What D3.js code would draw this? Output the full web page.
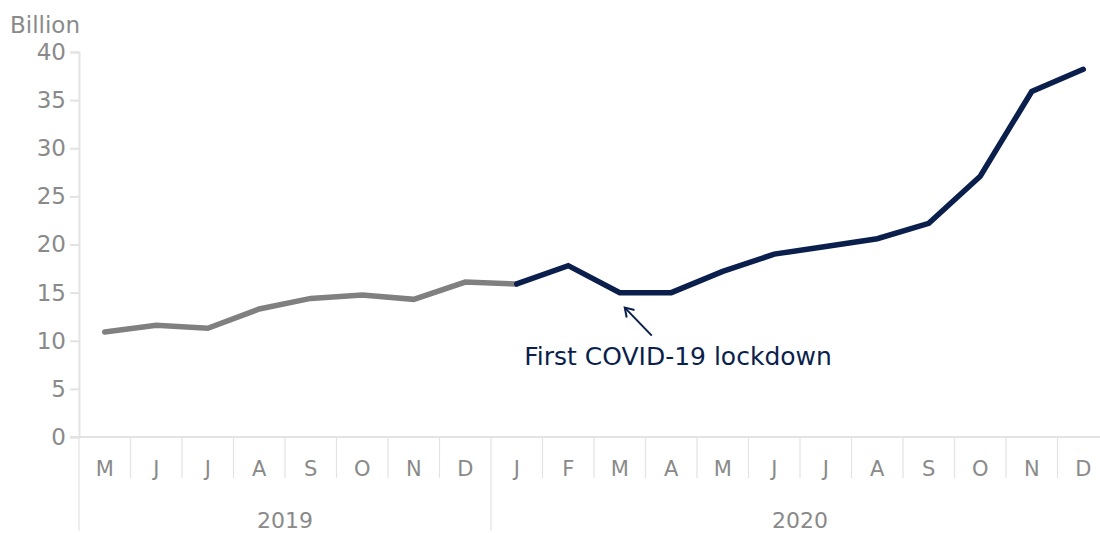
<!DOCTYPE html>
<html>
<head>
<meta charset="utf-8">
<script src="https://cdn.jsdelivr.net/npm/d3@7"></script>
<style>
  html, body { margin: 0; padding: 0; background: #fff; }
  svg { display: block; font-family: "DejaVu Sans", "Noto Sans", sans-serif; }
</style>
</head>
<body>
<svg id="chart" width="1100" height="533"></svg>
<script>
// Monthly labels, May 2019 – Dec 2020
const monthLabels = ["M","J","J","A","S","O","N","D","J","F","M","A","M","J","J","A","S","O","N","D"];
const monthYears  = [2019,2019,2019,2019,2019,2019,2019,2019,2020,2020,2020,2020,2020,2020,2020,2020,2020,2020,2020,2020];
// Values in billions
const values = [10.9, 11.6, 11.3, 13.3, 14.4, 14.75, 14.3, 16.1, 15.9, 17.8, 15.0, 15.0, 17.2, 19.0, 19.8, 20.6, 22.2, 27.1, 35.9, 38.2];
const years = [2019, 2020];
const yTicks = [0, 5, 10, 15, 20, 25, 30, 35, 40];
const unitLabel = "Billion";
const annotationText = "First COVID-19 lockdown";
const annotationIndex = 10; // March 2020

const svg = d3.select("#chart");
const axisColor = "#e3e3e3";
const textGray = "#8a8a8a";
const navy = "#0b1f4d";
const gray = "#808080";

const keys = monthLabels.map((m, i) => monthYears[i] + "-" + i);
const x = d3.scaleBand().domain(keys).range([79, 1109]).padding(0);
const y = d3.scaleLinear().domain([0, 40]).range([437, 52]);
const cx = i => x(keys[i]) + x.bandwidth() / 2;

// Y axis
const yAxis = svg.append("g")
  .attr("transform", "translate(79,0)")
  .call(d3.axisLeft(y).tickValues(yTicks).tickSize(9).tickPadding(4));
yAxis.select(".domain").attr("stroke", axisColor).attr("stroke-width", 2);
yAxis.selectAll(".tick line").attr("stroke", axisColor).attr("stroke-width", 2);
yAxis.selectAll(".tick text")
  .attr("fill", textGray)
  .style("font-size", "23px")
  .style("font-family", "'DejaVu Sans', sans-serif");

svg.append("text")
  .attr("x", 10).attr("y", 33)
  .attr("fill", textGray)
  .style("font-size", "23px")
  .text(unitLabel);

// X axis baseline
svg.append("line")
  .attr("x1", 70).attr("x2", 1100)
  .attr("y1", y(0)).attr("y2", y(0))
  .attr("stroke", axisColor).attr("stroke-width", 2);

// Month dividers
const xg = svg.append("g");
keys.forEach((k, i) => {
  if (i === 0) return;
  const isYearStart = monthYears[i] !== monthYears[i - 1];
  xg.append("line")
    .attr("x1", x(k)).attr("x2", x(k))
    .attr("y1", y(0)).attr("y2", isYearStart ? 531 : 478)
    .attr("stroke", axisColor).attr("stroke-width", 1.2);
});
xg.append("line")
  .attr("x1", x(keys[0])).attr("x2", x(keys[0]))
  .attr("y1", y(0)).attr("y2", 531)
  .attr("stroke", axisColor).attr("stroke-width", 1.2);

// Month labels
xg.selectAll("text.month")
  .data(monthLabels)
  .join("text")
  .attr("class", "month")
  .attr("x", (d, i) => cx(i))
  .attr("y", 476)
  .attr("text-anchor", "middle")
  .attr("fill", textGray)
  .style("font-size", "21px")
  .text(d => d);

// Year labels centred under their months
years.forEach(yr => {
  const idx = monthYears.map((v, i) => v === yr ? i : -1).filter(i => i >= 0);
  const x0 = x(keys[idx[0]]);
  const x1 = x(keys[idx[idx.length - 1]]) + x.bandwidth();
  xg.append("text")
    .attr("x", (x0 + x1) / 2)
    .attr("y", 528)
    .attr("text-anchor", "middle")
    .attr("fill", textGray)
    .style("font-size", "22px")
    .text(yr);
});

// Lines: 2019 through Jan 2020 in gray, 2020 in navy
const line = d3.line().x(d => cx(d.i)).y(d => y(d.v));
const pts = values.map((v, i) => ({ i, v }));
const firstIdx2020 = monthYears.indexOf(2020);

svg.append("path")
  .datum(pts.slice(0, firstIdx2020 + 1))
  .attr("d", line)
  .attr("fill", "none")
  .attr("stroke", gray)
  .attr("stroke-width", 5.5)
  .attr("stroke-linejoin", "miter")
  .attr("stroke-linecap", "round");

svg.append("path")
  .datum(pts.slice(firstIdx2020))
  .attr("d", line)
  .attr("fill", "none")
  .attr("stroke", navy)
  .attr("stroke-width", 5.5)
  .attr("stroke-linejoin", "miter")
  .attr("stroke-linecap", "round");

// Annotation arrow and text
const tipX = cx(annotationIndex) + 5;
const tipY = y(values[annotationIndex]) + 15;
const tailX = tipX + 27, tailY = tipY + 28;
svg.append("line")
  .attr("x1", tailX).attr("y1", tailY)
  .attr("x2", tipX).attr("y2", tipY)
  .attr("stroke", navy).attr("stroke-width", 2);
const ang = Math.atan2(tipY - tailY, tipX - tailX);
const hl = 10, ha = Math.PI / 5.5;
svg.append("path")
  .attr("d", `M${tipX + hl * Math.cos(ang + Math.PI - ha)},${tipY + hl * Math.sin(ang + Math.PI - ha)} L${tipX},${tipY} L${tipX + hl * Math.cos(ang + Math.PI + ha)},${tipY + hl * Math.sin(ang + Math.PI + ha)}`)
  .attr("fill", "none").attr("stroke", navy).attr("stroke-width", 2);

svg.append("text")
  .attr("x", 678)
  .attr("y", 365)
  .attr("text-anchor", "middle")
  .attr("fill", navy)
  .style("font-size", "25px")
  .text(annotationText);
</script>
</body>
</html>
